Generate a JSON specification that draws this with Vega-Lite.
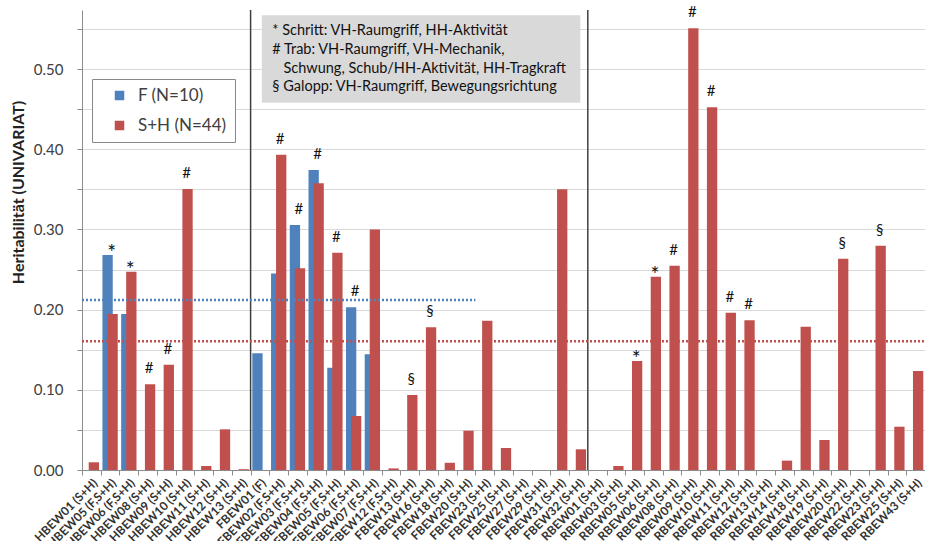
{
  "$schema": "https://vega.github.io/schema/vega-lite/v6.json",
  "width": 843,
  "height": 460,
  "autosize": {"type": "none"},
  "padding": {"left": 82, "top": 10, "right": 0, "bottom": 71},
  "background": "white",
  "config": {
    "font": "Lato",
    "view": {"stroke": null},
    "axisX": {
      "labelAngle": -45, "labelAlign": "right", "labelBaseline": "top", "labelPadding": 2,
      "labelFont": "Lato", "labelFontWeight": "bold", "labelFontSize": 12, "labelColor": "#333333",
      "tickBand": "extent", "tickSize": 5, "tickColor": "#8c8c8c", "domainColor": "#8c8c8c",
      "grid": false, "labelOverlap": false
    },
    "axisY": {
      "labelFont": "Lato", "labelFontSize": 15, "labelColor": "#404040", "labelPadding": 14,
      "tickSize": 5, "tickColor": "#8c8c8c", "domainColor": "#8c8c8c",
      "gridColor": "#d9d9d9", "gridWidth": 1
    }
  },
  "datasets": {
    "bars": [
      {"cat": "HBEW01 (S+H)", "series": "S+H (N=44)", "value": 0.0096, "note": null},
      {"cat": "HBEW05 (F,S+H)", "series": "F (N=10)", "value": 0.268, "note": "*"},
      {"cat": "HBEW05 (F,S+H)", "series": "S+H (N=44)", "value": 0.1945, "note": null},
      {"cat": "HBEW06 (F,S+H)", "series": "F (N=10)", "value": 0.1945, "note": null},
      {"cat": "HBEW06 (F,S+H)", "series": "S+H (N=44)", "value": 0.2473, "note": "*"},
      {"cat": "HBEW08 (S+H)", "series": "S+H (N=44)", "value": 0.1068, "note": "#"},
      {"cat": "HBEW09 (S+H)", "series": "S+H (N=44)", "value": 0.1313, "note": "#"},
      {"cat": "HBEW10 (S+H)", "series": "S+H (N=44)", "value": 0.3504, "note": "#"},
      {"cat": "HBEW11 (S+H)", "series": "S+H (N=44)", "value": 0.005, "note": null},
      {"cat": "HBEW12 (S+H)", "series": "S+H (N=44)", "value": 0.0507, "note": null},
      {"cat": "HBEW13 (S+H)", "series": "S+H (N=44)", "value": 0.001, "note": null},
      {"cat": "FBEW01 (F)", "series": "F (N=10)", "value": 0.1455, "note": null},
      {"cat": "FBEW02 (F,S+H)", "series": "F (N=10)", "value": 0.245, "note": null},
      {"cat": "FBEW02 (F,S+H)", "series": "S+H (N=44)", "value": 0.393, "note": "#"},
      {"cat": "FBEW03 (F,S+H)", "series": "F (N=10)", "value": 0.3055, "note": "#"},
      {"cat": "FBEW03 (F,S+H)", "series": "S+H (N=44)", "value": 0.2515, "note": null},
      {"cat": "FBEW04 (F,S+H)", "series": "F (N=10)", "value": 0.374, "note": "#"},
      {"cat": "FBEW04 (F,S+H)", "series": "S+H (N=44)", "value": 0.3575, "note": null},
      {"cat": "FBEW05 (F,S+H)", "series": "F (N=10)", "value": 0.1276, "note": null},
      {"cat": "FBEW05 (F,S+H)", "series": "S+H (N=44)", "value": 0.271, "note": "#"},
      {"cat": "FBEW06 (F,S+H)", "series": "F (N=10)", "value": 0.2028, "note": "#"},
      {"cat": "FBEW06 (F,S+H)", "series": "S+H (N=44)", "value": 0.0673, "note": null},
      {"cat": "FBEW07 (F,S+H)", "series": "F (N=10)", "value": 0.1442, "note": null},
      {"cat": "FBEW07 (F,S+H)", "series": "S+H (N=44)", "value": 0.300, "note": null},
      {"cat": "FBEW12 (F,S+H)", "series": "S+H (N=44)", "value": 0.002, "note": null},
      {"cat": "FBEW13 (S+H)", "series": "S+H (N=44)", "value": 0.0935, "note": "§"},
      {"cat": "FBEW16 (S+H)", "series": "S+H (N=44)", "value": 0.178, "note": "§"},
      {"cat": "FBEW18 (S+H)", "series": "S+H (N=44)", "value": 0.009, "note": null},
      {"cat": "FBEW20 (S+H)", "series": "S+H (N=44)", "value": 0.049, "note": null},
      {"cat": "FBEW23 (S+H)", "series": "S+H (N=44)", "value": 0.186, "note": null},
      {"cat": "FBEW25 (S+H)", "series": "S+H (N=44)", "value": 0.0274, "note": null},
      {"cat": "FBEW27 (S+H)", "series": "S+H (N=44)", "value": 0, "note": null},
      {"cat": "FBEW29 (S+H)", "series": "S+H (N=44)", "value": 0, "note": null},
      {"cat": "FBEW31 (S+H)", "series": "S+H (N=44)", "value": 0.35, "note": null},
      {"cat": "FBEW32 (S+H)", "series": "S+H (N=44)", "value": 0.0258, "note": null},
      {"cat": "RBEW01 (S+H)", "series": "S+H (N=44)", "value": 0, "note": null},
      {"cat": "RBEW03 (S+H)", "series": "S+H (N=44)", "value": 0.005, "note": null},
      {"cat": "RBEW05 (S+H)", "series": "S+H (N=44)", "value": 0.136, "note": "*"},
      {"cat": "RBEW06 (S+H)", "series": "S+H (N=44)", "value": 0.241, "note": "*"},
      {"cat": "RBEW08 (S+H)", "series": "S+H (N=44)", "value": 0.2548, "note": "#"},
      {"cat": "RBEW09 (S+H)", "series": "S+H (N=44)", "value": 0.5507, "note": "#"},
      {"cat": "RBEW10 (S+H)", "series": "S+H (N=44)", "value": 0.4522, "note": "#"},
      {"cat": "RBEW11 (S+H)", "series": "S+H (N=44)", "value": 0.196, "note": "#"},
      {"cat": "RBEW12 (S+H)", "series": "S+H (N=44)", "value": 0.1866, "note": "#"},
      {"cat": "RBEW13 (S+H)", "series": "S+H (N=44)", "value": 0, "note": null},
      {"cat": "RBEW14 (S+H)", "series": "S+H (N=44)", "value": 0.0117, "note": null},
      {"cat": "RBEW18 (S+H)", "series": "S+H (N=44)", "value": 0.1787, "note": null},
      {"cat": "RBEW19 (S+H)", "series": "S+H (N=44)", "value": 0.0374, "note": null},
      {"cat": "RBEW20 (S+H)", "series": "S+H (N=44)", "value": 0.2635, "note": "§"},
      {"cat": "RBEW22 (S+H)", "series": "S+H (N=44)", "value": 0, "note": null},
      {"cat": "RBEW23 (S+H)", "series": "S+H (N=44)", "value": 0.2797, "note": "§"},
      {"cat": "RBEW25 (S+H)", "series": "S+H (N=44)", "value": 0.054, "note": null},
      {"cat": "RBEW43 (S+H)", "series": "S+H (N=44)", "value": 0.1234, "note": null}
    ],
    "means": [
      {"series": "F (N=10)", "mean": 0.212, "from": "HBEW01 (S+H)", "to": "FBEW20 (S+H)"},
      {"series": "S+H (N=44)", "mean": 0.1605, "from": "HBEW01 (S+H)", "to": "RBEW43 (S+H)"}
    ],
    "sections": [
      {"start": "FBEW01 (F)"},
      {"start": "RBEW01 (S+H)"}
    ],
    "box": [
      {"from": "FBEW01 (F)", "to": "FBEW32 (S+H)", "top": 0.567, "bottom": 0.458,
       "label": "* Schritt: VH-Raumgriff, HH-Aktivität\n# Trab: VH-Raumgriff, VH-Mechanik,\n\u200b\u00a0\u00a0\u00a0Schwung, Schub/HH-Aktivität, HH-Tragkraft\n§ Galopp: VH-Raumgriff, Bewegungsrichtung"}
    ]
  },
  "layer": [
    {
      "data": {"name": "bars"},
      "transform": [{"filter": "datum.series == 'F (N=10)'"}],
      "mark": {"type": "bar", "width": {"band": 0.55}, "xOffset": -2.5},
      "encoding": {
        "x": {"field": "cat", "type": "nominal", "title": null,
              "scale": {"domain": ["HBEW01 (S+H)","HBEW05 (F,S+H)","HBEW06 (F,S+H)","HBEW08 (S+H)","HBEW09 (S+H)","HBEW10 (S+H)","HBEW11 (S+H)","HBEW12 (S+H)","HBEW13 (S+H)","FBEW01 (F)","FBEW02 (F,S+H)","FBEW03 (F,S+H)","FBEW04 (F,S+H)","FBEW05 (F,S+H)","FBEW06 (F,S+H)","FBEW07 (F,S+H)","FBEW12 (F,S+H)","FBEW13 (S+H)","FBEW16 (S+H)","FBEW18 (S+H)","FBEW20 (S+H)","FBEW23 (S+H)","FBEW25 (S+H)","FBEW27 (S+H)","FBEW29 (S+H)","FBEW31 (S+H)","FBEW32 (S+H)","RBEW01 (S+H)","RBEW03 (S+H)","RBEW05 (S+H)","RBEW06 (S+H)","RBEW08 (S+H)","RBEW09 (S+H)","RBEW10 (S+H)","RBEW11 (S+H)","RBEW12 (S+H)","RBEW13 (S+H)","RBEW14 (S+H)","RBEW18 (S+H)","RBEW19 (S+H)","RBEW20 (S+H)","RBEW22 (S+H)","RBEW23 (S+H)","RBEW25 (S+H)","RBEW43 (S+H)"],
                        "paddingInner": 0, "paddingOuter": 0},
              "axis": {"title": null}},
        "y": {"field": "value", "type": "quantitative", "title": "Heritabilität (UNIVARIAT)",
              "scale": {"domain": [0, 0.5736], "nice": false, "zero": true},
              "axis": {"values": [0, 0.05, 0.1, 0.15, 0.2, 0.25, 0.3, 0.35, 0.4, 0.45, 0.5, 0.55],
                       "labelExpr": "round(datum.value * 100) % 10 == 0 ? format(datum.value, '.2f') : ''",
                       "titleFont": "Lato", "titleFontSize": 16, "titleFontWeight": "bold", "titleColor": "#222222",
                       "titleAngle": -90, "titleX": -64, "titleY": 182, "titleAlign": "center", "titleBaseline": "middle"}},
        "color": {"field": "series", "type": "nominal",
                  "scale": {"domain": ["F (N=10)", "S+H (N=44)"], "range": ["#4f81bd", "#c0504d"]},
                  "legend": {"title": null, "orient": "none", "legendX": 10, "legendY": 69,
                             "symbolType": "square", "symbolSize": 64, "symbolOffset": 11,
                             "labelFont": "Lato", "labelFontSize": 17, "labelColor": "#404040", "labelOffset": 10,
                             "rowPadding": 12, "padding": 8, "strokeColor": "#888888", "fillColor": "white"}}
      }
    },
    {
      "data": {"name": "bars"},
      "transform": [{"filter": "datum.series == 'S+H (N=44)'"}],
      "mark": {"type": "bar", "width": {"band": 0.55}, "xOffset": 2.5},
      "encoding": {
        "x": {"field": "cat", "type": "nominal", "title": null},
        "y": {"field": "value", "type": "quantitative", "title": "Heritabilität (UNIVARIAT)"},
        "color": {"field": "series", "type": "nominal"}
      }
    },
    {
      "data": {"name": "box"},
      "mark": {"type": "rect", "fill": "#d9d9d9"},
      "encoding": {
        "x": {"field": "from", "type": "nominal", "bandPosition": 0.6, "title": null},
        "x2": {"field": "to", "bandPosition": 0.6},
        "y": {"field": "top", "type": "quantitative", "title": "Heritabilität (UNIVARIAT)"},
        "y2": {"field": "bottom"}
      }
    },
    {
      "data": {"name": "box"},
      "mark": {"type": "text", "align": "left", "baseline": "top", "dx": 10.5, "dy": 9,
               "lineBreak": "\n", "lineHeight": 18.7, "fontSize": 14.5, "font": "Lato", "color": "#111111"},
      "encoding": {
        "x": {"field": "from", "type": "nominal", "bandPosition": 0.6, "title": null},
        "y": {"field": "top", "type": "quantitative", "title": "Heritabilität (UNIVARIAT)"},
        "text": {"field": "label"}
      }
    },
    {
      "data": {"name": "sections"},
      "mark": {"type": "rule", "color": "#404040", "strokeWidth": 1.5},
      "encoding": {
        "x": {"field": "start", "type": "nominal", "bandPosition": 0, "title": null}
      }
    },
    {
      "data": {"name": "means"},
      "mark": {"type": "rule", "strokeWidth": 2.5, "strokeDash": [2, 2]},
      "encoding": {
        "x": {"field": "from", "type": "nominal", "bandPosition": 0, "title": null},
        "x2": {"field": "to", "bandPosition": 1},
        "y": {"field": "mean", "type": "quantitative", "title": "Heritabilität (UNIVARIAT)"},
        "stroke": {"field": "series", "type": "nominal",
                   "scale": {"domain": ["F (N=10)", "S+H (N=44)"], "range": ["#4f81bd", "#c0504d"]},
                   "legend": null}
      }
    },
    {
      "data": {"name": "bars"},
      "transform": [{"filter": "datum.note == '#' || datum.note == '§'"}],
      "mark": {"type": "text", "baseline": "alphabetic", "dy": -11, "xOffset": 1.5, "fontSize": 15, "font": "Lato", "color": "#111111"},
      "encoding": {
        "x": {"field": "cat", "type": "nominal", "title": null},
        "y": {"field": "value", "type": "quantitative", "title": "Heritabilität (UNIVARIAT)"},
        "text": {"field": "note"}
      }
    },
    {
      "data": {"name": "bars"},
      "transform": [{"filter": "datum.note == '*'"}],
      "mark": {"type": "text", "baseline": "alphabetic", "dy": 5, "xOffset": 1.5, "fontSize": 21, "font": "Lato", "color": "#111111"},
      "encoding": {
        "x": {"field": "cat", "type": "nominal", "title": null},
        "y": {"field": "value", "type": "quantitative", "title": "Heritabilität (UNIVARIAT)"},
        "text": {"field": "note"}
      }
    }
  ]
}
